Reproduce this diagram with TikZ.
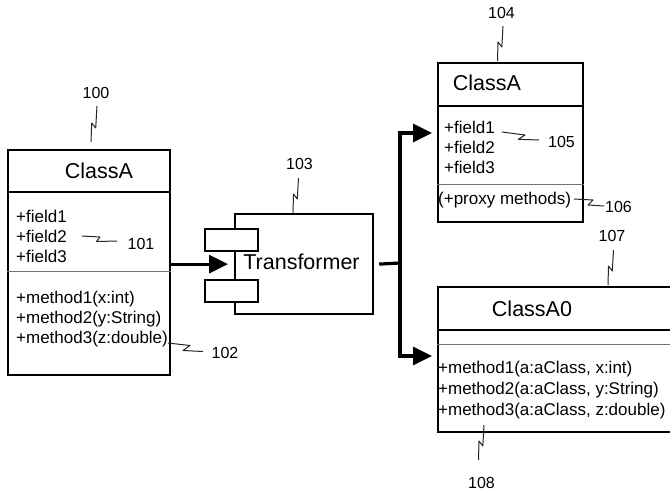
\documentclass[tikz,border=0pt]{standalone}
\usepackage{fontspec}
\setmainfont{Liberation Sans}
\usetikzlibrary{arrows.meta}
\begin{document}
\begin{tikzpicture}[x=1pt,y=-1pt,
  box/.style={draw, line width=2.2pt, inner sep=0pt, anchor=north west},
  thicksep/.style={line width=2.0pt},
  thinsep/.style={line width=0.9pt, draw=black!55},
  flow/.style={line width=3.2pt, line join=miter},
  tip/.style={-{Triangle[length=19pt,width=18pt]}},
  title/.style={font=\fontsize{21.5}{25}\selectfont, inner sep=0pt, anchor=base},
  txt/.style={font=\fontsize{17}{20}\selectfont, inner sep=0pt, anchor=base west},
  lbl/.style={font=\fontsize{16}{18}\selectfont, inner sep=0pt},
  leader/.style={line width=1pt, draw=black!85, line join=round}]
\useasboundingbox (0,0) rectangle (670,493);
\clip (0,0) rectangle (670,493);

% ---------- left ClassA ----------
\node[box, minimum width=162pt, minimum height=225pt] (L) at (7,149) {};
\draw[thicksep] (L.west |- 0,192) -- (L.east |- 0,192);
\draw[thinsep] (L.west |- 0,271) -- (L.east |- 0,271);
\node[title] (Lt) at (99,178) {ClassA};
\node[txt] (Lf1) at (16,222) {+field1};
\node[txt] (Lf2) at (16,242) {+field2};
\node[txt] (Lf3) at (16,262) {+field3};
\node[txt] (Lm1) at (16,303) {+method1(x:int)};
\node[txt] (Lm2) at (16,323) {+method2(y:String)};
\node[txt] (Lm3) at (16,343) {+method3(z:double)};

% ---------- transformer ----------
\node[box, minimum width=138pt, minimum height=100pt] (T) at (234,213) {};
\node[box, fill=white, minimum width=53pt, minimum height=22pt] (T1) at (204,228) {};
\node[box, fill=white, minimum width=53pt, minimum height=22pt] (T2) at (204,279) {};
\node[title] (Tt) at (301.5,269) {Transformer};

% ---------- right ClassA ----------
\node[box, minimum width=145pt, minimum height=159pt] (R) at (437,62) {};
\draw[thicksep] (R.west |- 0,106) -- (R.east |- 0,106);
\draw[thinsep] (R.west |- 0,184) -- (R.east |- 0,184);
\node[title] (Rt) at (487,90) {ClassA};
\node[txt] (Rf1) at (444,133) {+field1};
\node[txt] (Rf2) at (444,153) {+field2};
\node[txt] (Rf3) at (444,173) {+field3};
\node[txt] (Rp) at (438,204) {(+proxy methods)};

% ---------- ClassA0 ----------
\node[box, minimum width=250pt, minimum height=145pt] (Z) at (437,286) {};
\draw[thicksep] (Z.west |- 0,330) -- (680,330);
\draw[thinsep] (Z.west |- 0,344) -- (680,344);
\node[title] (Zt) at (532,316) {ClassA0};
\node[txt] (Zm1) at (438,373) {+method1(a:aClass, x:int)};
\node[txt] (Zm2) at (438,394) {+method2(a:aClass, y:String)};
\node[txt] (Zm3) at (438,415) {+method3(a:aClass, z:double)};

% ---------- connectors ----------
\coordinate (J) at (400,263);
\coordinate (ra) at (437,133);
\coordinate (za) at (437,356);
\draw[flow, tip, shorten >=6pt] (L.east |- T.west) -- (T.west);
\draw[flow] ([xshift=5pt]T.east) -- (J);
\draw[flow, tip, shorten >=5pt] (J) |- (ra);
\draw[flow, tip, shorten >=5pt] (J) |- (za);

% ---------- reference labels ----------
\node[lbl] (n100) at (96,93) {100};
\node[lbl] (n101) at (141,244) {101};
\node[lbl] (n102) at (225,353) {102};
\node[lbl] (n103) at (299.5,164) {103};
\node[lbl] (n104) at (501.5,13) {104};
\node[lbl] (n105) at (561.5,142) {105};
\node[lbl] (n106) at (618.5,207) {106};
\node[lbl] (n107) at (612,236) {107};
\node[lbl] (n108) at (481.5,483) {108};

% vertical N-shaped leaders
\draw[leader] (97,106) -- (95.7,128) -- (91.7,123) -- (91,142);
\draw[leader] (298.5,178) -- (297.3,199) -- (293.5,194) -- (293,213);
\draw[leader] (503,26) -- (501.8,47) -- (498,42) -- (497.5,61);
\draw[leader] (613.5,250) -- (612.3,271) -- (608.5,266) -- (608,285);
\draw[leader] (484,425) -- (482.8,446) -- (479,441) -- (478.5,460);
% horizontal Z-shaped leaders
\draw[leader] (82,236) -- (100,237) -- (96.5,241.5) -- (117,241);
\draw[leader] (168,343) -- (190,345.5) -- (183,350.5) -- (203,351.5);
\draw[leader] (502,132) -- (525,135) -- (518.3,139.3) -- (539,140);
\draw[leader] (574,199) -- (593,200) -- (588,205) -- (604,206);
\end{tikzpicture}
\end{document}
